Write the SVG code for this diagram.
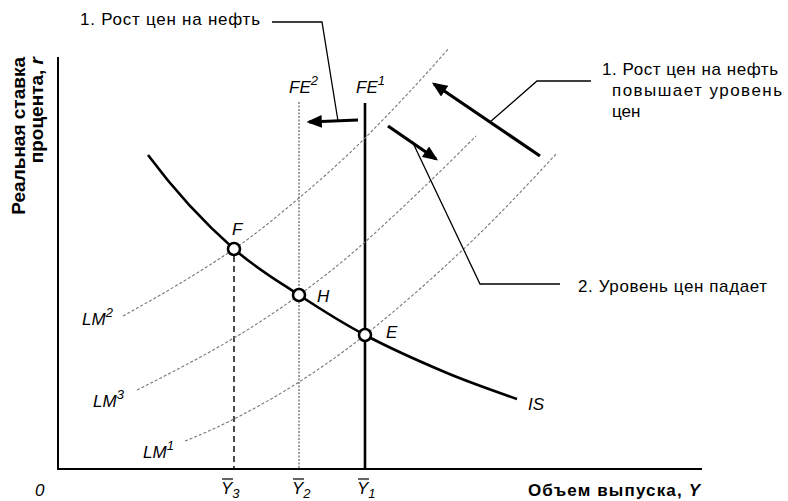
<svg xmlns="http://www.w3.org/2000/svg" width="788" height="501" viewBox="0 0 788 501">
<defs>
<style>
text{font-family:"Liberation Sans",Arial,sans-serif;fill:#000}
.t{font-size:17px}
.it{font-size:17px;font-style:italic}
.sup{font-size:13px;font-style:italic}
.b{font-weight:bold}
.axis{stroke:#000;stroke-width:2;fill:none}
.lm{stroke:#777;stroke-width:1.1;fill:none;stroke-dasharray:3 2}
.is{stroke:#000;stroke-width:2.6;fill:none}
.lead{stroke:#000;stroke-width:1.3;fill:none}
.arr{stroke:#000;stroke-width:3.2;fill:none;marker-end:url(#ah)}
.pt{fill:#fff;stroke:#000;stroke-width:2.6}
</style>
<marker id="ah" viewBox="0 0 12 10" refX="10" refY="5" markerWidth="5" markerHeight="4" markerUnits="strokeWidth" orient="auto">
<path d="M0,0 L12,5 L0,10 Z" fill="#000"/>
</marker>
</defs>
<rect width="788" height="501" fill="#fff"/>

<g id="axes">
<path class="axis" d="M58,57 V470 M57,469 H702"/>
<text class="t b" transform="translate(25,57) rotate(-90)" text-anchor="end" style="font-size:19px">Реальная ставка</text>
<text class="t b" transform="translate(43,57) rotate(-90)" text-anchor="end" style="font-size:19px">процента, <tspan font-style="italic">r</tspan></text>
<text class="t b" x="528" y="496" textLength="172">Объем выпуска, <tspan font-style="italic">Y</tspan></text>
<text class="it" x="35" y="496">0</text>
</g>

<g id="ticks">
<line x1="222" y1="479" x2="233" y2="479" stroke="#000" stroke-width="1.2"/>
<text class="it" x="221" y="494">Y<tspan class="sup" dy="4">3</tspan></text>
<line x1="293" y1="479" x2="304" y2="479" stroke="#000" stroke-width="1.2"/>
<text class="it" x="292" y="494">Y<tspan class="sup" dy="4">2</tspan></text>
<line x1="358" y1="479" x2="369" y2="479" stroke="#000" stroke-width="1.2"/>
<text class="it" x="357" y="494">Y<tspan class="sup" dy="4">1</tspan></text>
</g>

<g id="connectors">
<line x1="234" y1="256" x2="234" y2="469" stroke="#000" stroke-width="1.4" stroke-dasharray="6 4"/>
<line x1="299" y1="102" x2="299" y2="469" stroke="#777" stroke-width="1.4" stroke-dasharray="2 1.5"/>
<line x1="365" y1="103" x2="365" y2="469" stroke="#000" stroke-width="2.6"/>
<path class="lm" d="M123,316 C160,295.6 197,274.2 234,249 C255.7,234.2 277.3,216.3 299,198 C320.3,180 341.7,161.3 363,140 C391.7,111.3 420.3,81 449,48"/>
<path class="lm" d="M137,390 C169.3,373.8 201.7,357.1 234,338 C255.7,325.2 277.3,310.8 299,295 C321,278.9 343,261.8 365,242 C402,208.7 439,173 476,136"/>
<path class="lm" d="M185,441 C201.3,434.5 217.7,427.3 234,419 C255.7,407.9 277.3,395.9 299,382 C321,367.9 343,352.6 365,335 C401,306.2 437,274.6 473,240 C501,213.1 529,183.2 557,153"/>
<path class="is" d="M148,155 C176.7,193.7 205.3,223.7 234,249 C255.7,268.1 277.3,280.7 299,295 C321,309.5 343,323.3 365,335 C392.3,349.5 419.7,361.5 447,373 C470.3,382.8 493.7,390.8 517,399"/>
<line class="arr" x1="358" y1="120" x2="309" y2="122"/>
<line class="arr" x1="388" y1="126" x2="436" y2="159"/>
<line class="arr" x1="540" y1="156" x2="434" y2="84"/>
<path class="lead" d="M272,22 H322 L338,121"/>
<path class="lead" d="M591,81 H537 L490,122"/>
<path class="lead" d="M560,284 H480 L413,143"/>
</g>

<g id="labels">
<text class="it" x="289" y="93">FE<tspan class="sup" dy="-8">2</tspan></text>
<text class="it" x="356" y="93">FE<tspan class="sup" dy="-8">1</tspan></text>
<text class="it" x="82" y="325">LM<tspan class="sup" dy="-8">2</tspan></text>
<text class="it" x="93" y="407">LM<tspan class="sup" dy="-8">3</tspan></text>
<text class="it" x="143" y="458">LM<tspan class="sup" dy="-8">1</tspan></text>
<text class="it" x="528" y="410">IS</text>
</g>

<g id="F"><circle class="pt" cx="234" cy="249" r="6"/><text class="it" x="232" y="235">F</text></g>
<g id="H"><circle class="pt" cx="299" cy="295" r="6"/><text class="it" x="317" y="302">H</text></g>
<g id="E"><circle class="pt" cx="365" cy="335" r="6"/><text class="it" x="386" y="338">E</text></g>

<g id="notes">
<text class="t" x="80" y="25" textLength="180">1. Рост цен на нефть</text>
<text class="t" x="602" y="75" textLength="176">1. Рост цен на нефть</text>
<text class="t" x="612" y="96" textLength="170">повышает уровень</text>
<text class="t" x="612" y="117">цен</text>
<text class="t" x="578" y="292" textLength="189">2. Уровень цен падает</text>
</g>
</svg>
